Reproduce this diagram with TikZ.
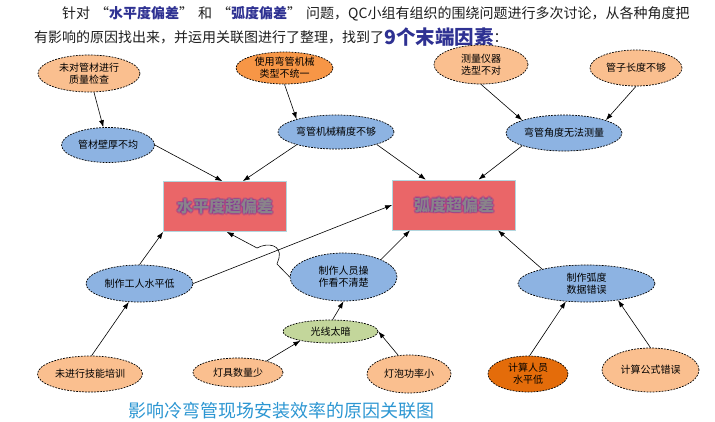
\documentclass[tikz,border=0pt]{standalone}
\usepackage{fontspec}
\setmainfont{Noto Sans CJK SC}
\usepackage{xcolor}
\usepackage{tikz}
\usetikzlibrary{shapes,arrows.meta,calc}
\definecolor{pale}{RGB}{250,191,143}
\definecolor{orng}{RGB}{247,150,70}
\definecolor{deeporng}{RGB}{228,108,10}
\definecolor{sky}{RGB}{141,179,226}
\definecolor{leaf}{RGB}{195,214,155}
\definecolor{boxred}{RGB}{234,102,104}
\definecolor{rim}{RGB}{178,214,222}
\definecolor{glow}{RGB}{112,48,160}
\definecolor{ink}{RGB}{138,132,138}
\definecolor{titleblue}{RGB}{46,49,146}
\definecolor{capblue}{RGB}{44,150,210}
\definecolor{headink}{RGB}{30,30,30}
\newcommand{\openq}{\hspace{5pt}“}
\newcommand{\closeq}{”\hspace{5pt}}
\tikzstyle{link} = [draw, line width=0.6pt, -{Latex[length=7pt,width=5pt]}]
\tikzstyle{cause} = [ellipse, draw, line width=0.7pt, dash pattern=on 1.8pt off 1.2pt, inner sep=0pt, align=center, font=\fontsize{10}{12}\selectfont]
\tikzstyle{effect} = [rectangle, draw=rim, fill=boxred, line width=0.8pt, minimum width=123pt, minimum height=50pt]
\tikzstyle{bigtext} = [font=\fontsize{16}{16}\selectfont\bfseries]
\tikzstyle{head} = [anchor=west, inner sep=0pt, font=\fontsize{14}{14}\selectfont, text=headink]

\begin{document}
\begin{tikzpicture}[x=1pt, y=-1pt]

\useasboundingbox (0,0) rectangle (715,421);

\node [head] (line1) at (62,14) {针对\openq{\bfseries\color{titleblue}水平度偏差}\closeq 和\openq{\bfseries\color{titleblue}弧度偏差}\closeq 问题，QC小组有组织的围绕问题进行多次讨论，从各种角度把};
\node [head] (line2) at (34,37) {有影响的原因找出来，并运用关联图进行了整理，找到了\raisebox{-2pt}{\fontsize{19.5}{20}\selectfont\bfseries\color{titleblue}9个末端因素}：};

\node [effect] (horiz) at (225,206.5) {};
\node [effect] (arc) at (454,205) {};
\foreach \a in {0,45,...,315} {
  \node [bigtext, text=glow, opacity=0.25] at ($(horiz)+(\a:1.6)$) {水平度超偏差};
  \node [bigtext, text=glow, opacity=0.25] at ($(arc)+(\a:1.6)$) {弧度超偏差};
}
\node [bigtext, text=ink] at (horiz) {水平度超偏差};
\node [bigtext, text=ink] at (arc) {弧度超偏差};

\node [cause, fill=pale, minimum width=102pt, minimum height=37pt] (check) at (89,73.5) {未对管材进行\\质量检查};
\node [cause, fill=orng, minimum width=97pt, minimum height=32pt] (machtype) at (284.5,68) {使用弯管机械\\类型不统一};
\node [cause, fill=sky, minimum width=93pt, minimum height=35pt] (wall) at (108,145) {管材壁厚不均};
\node [cause, fill=sky, minimum width=116pt, minimum height=34pt] (mach) at (336,132) {弯管机械精度不够};
\node [cause, fill=pale, minimum width=94pt, minimum height=39pt] (meter) at (481,64.5) {测量仪器\\选型不对};
\node [cause, fill=pale, minimum width=92pt, minimum height=36pt] (length) at (636,68) {管子长度不够};
\node [cause, fill=sky, minimum width=116pt, minimum height=36pt] (angle) at (564,133) {弯管角度无法测量};

\node [cause, fill=sky, minimum width=107pt, minimum height=37pt] (worker) at (139.5,283.5) {制作工人水平低};
\node [cause, fill=sky, minimum width=107pt, minimum height=48pt] (staff) at (343.5,277) {制作人员操\\作看不清楚};
\node [cause, fill=sky, minimum width=137pt, minimum height=37pt] (data) at (586.5,283.5) {制作弧度\\数据错误};
\node [cause, fill=leaf, minimum width=95pt, minimum height=23pt] (light) at (330.5,331.5) {光线太暗};

\node [cause, fill=pale, minimum width=105pt, minimum height=36pt] (train) at (90,374) {未进行技能培训};
\node [cause, fill=pale, minimum width=90pt, minimum height=29pt] (lamps) at (238,372.5) {灯具数量少};
\node [cause, fill=pale, minimum width=84pt, minimum height=38pt] (power) at (409,374) {灯泡功率小};
\node [cause, fill=deeporng, minimum width=80pt, minimum height=36pt] (calcstaff) at (528,374) {计算人员\\水平低};
\node [cause, fill=pale, minimum width=97pt, minimum height=44pt] (formula) at (650.5,370) {计算公式错误};

\node [anchor=west, inner sep=0pt, font=\fontsize{18}{18}\selectfont, text=capblue] (caption) at (128,411) {影响冷弯管现场安装效率的原因关联图};

\path [link] (check) -- (wall);
\path [link] (machtype.270) -- (mach.162);
\path [link] (wall.east) -- (horiz.96);
\path [link] (mach.198) -- (horiz.55);
\path [link] (mach.343) -- (arc.138);
\path [link] (meter.270) -- (angle.163);
\path [link] (length.270) -- (angle.17);
\path [link] (angle.197) -- (arc.46);

\path [link] (worker.north) -- (horiz.south west);
\path [link] (worker.east) -- (arc.west);
\path [link] (staff.west) -- (277,264) -- (279,258) .. controls (282,245) and (268,242) .. (257,248) -- (horiz.274);
\path [link] (staff.25) -- (arc.210);
\path [link] (data.162) -- (arc.330);

\path [link] (train.85) -- (worker.240);
\path [link] (light.80) -- (staff.south);
\path [link] (lamps.22) -- (light.197);
\path [link] (power.120) -- (light.east);
\path [link] (calcstaff.85) -- (data.221);
\path [link] (formula.north) -- (data.332);

\end{tikzpicture}
\end{document}
